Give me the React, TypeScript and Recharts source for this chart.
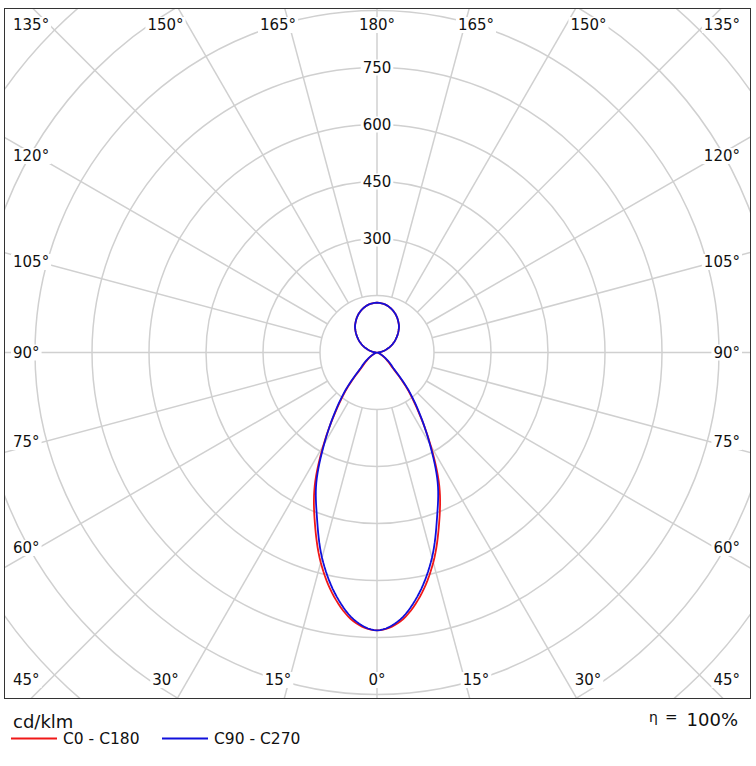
import { RadarChart, Radar, PolarGrid, PolarAngleAxis, PolarRadiusAxis } from 'recharts';

// Photometric polar diagram (cd/klm), C0-C180 vs C90-C270

// gamma angles of the measured curve (0° = straight down, 180° = up)
const GAMMA = [
  0, 5, 10, 15, 20, 25, 30, 35, 40, 45, 50, 55, 60, 65, 70, 75, 80, 85, 90,
  95, 100, 105, 110, 115, 120, 125, 130, 135, 140, 145, 150, 155, 160, 165, 170, 175, 180,
];

// cd/klm
const C0_C180 = [
  731, 710, 652, 572, 478, 388, 282, 190, 122, 62, 40, 27, 16, 9, 4, 2, 2, 3, 3,
  6, 13, 21, 30, 40, 50, 60, 70, 80, 90, 98, 106, 113, 119, 124, 128, 130, 131,
];
const C90_C270 = [
  731, 705, 642, 559, 462, 378, 278, 194, 128, 68, 46, 30, 18, 10, 5, 3, 2, 3, 3,
  6, 13, 21, 30, 40, 50, 60, 70, 80, 90, 98, 106, 113, 119, 124, 128, 130, 131,
];

// radial grid rings and the ones that carry a value label
const RING_VALUES = [150, 300, 450, 600, 750, 900, 1050, 1200, 1350];
const RING_LABELS = [300, 450, 600, 750];

// angle axis runs 0..360 round the full circle, starting at the bottom
const SPOKE_ANGLES = [0, 15, 30, 45, 60, 75, 90, 105, 120, 135, 150, 165, 180, 195, 210, 225, 240, 255, 270, 285, 300, 315, 330, 345];
const DEG_LABELS = [
  '0°', '15°', '30°', '45°', '60°', '75°', '90°', '105°', '120°', '135°', '150°', '165°',
  '180°', '165°', '150°', '135°', '120°', '105°', '90°', '75°', '60°', '45°', '30°', '15°',
];

const SERIES = [
  { key: 'c0', name: 'C0 - C180', color: '#f01818' },
  { key: 'c90', name: 'C90 - C270', color: '#1010dc' },
];

// ─── layout ────────────────────────────────────────────────
const BOX = { left: 4, top: 8, width: 747, height: 691 };
const CENTER = { x: 377, y: 352.5 };
const PX_PER_UNIT = 0.38;
const FONT = '"DejaVu Sans", Verdana, sans-serif';
const GRID = '#d0d0d0';
const RADIAN = Math.PI / 180;

// degree label anchors (page coords), same order as SPOKE_ANGLES
const LABEL_POS: { x: number; y: number; anchor: 'start' | 'middle' | 'end' }[] = [
  { x: 377, y: 680, anchor: 'middle' },
  { x: 476, y: 680, anchor: 'middle' },
  { x: 588, y: 680, anchor: 'middle' },
  { x: 740, y: 680, anchor: 'end' },
  { x: 740, y: 548, anchor: 'end' },
  { x: 740, y: 442, anchor: 'end' },
  { x: 740, y: 352.5, anchor: 'end' },
  { x: 740, y: 262, anchor: 'end' },
  { x: 740, y: 156, anchor: 'end' },
  { x: 740, y: 25, anchor: 'end' },
  { x: 588.5, y: 25, anchor: 'middle' },
  { x: 476, y: 25, anchor: 'middle' },
  { x: 377, y: 25, anchor: 'middle' },
  { x: 278, y: 25, anchor: 'middle' },
  { x: 165.5, y: 25, anchor: 'middle' },
  { x: 13, y: 25, anchor: 'start' },
  { x: 13, y: 156, anchor: 'start' },
  { x: 13, y: 262, anchor: 'start' },
  { x: 13, y: 352.5, anchor: 'start' },
  { x: 13, y: 442, anchor: 'start' },
  { x: 13, y: 548, anchor: 'start' },
  { x: 13, y: 680, anchor: 'start' },
  { x: 165.5, y: 680, anchor: 'middle' },
  { x: 278, y: 680, anchor: 'middle' },
];

// full circle: right half is C0 / C90 side, left half mirrors it
const data = Array.from({ length: 72 }, (_, k) => {
  const angle = k * 5;
  const g = angle <= 180 ? angle : 360 - angle;
  const i = GAMMA.indexOf(g);
  return { angle, c0: C0_C180[i], c90: C90_C270[i] };
});

function labelWidth(s: string, size = 15) {
  let w = 0;
  for (const ch of s) w += ch === '°' ? 0.5 : 0.636;
  return w * size;
}

// smooth closed curve through the radar points, spline taken on the radius
// (like a photometric plot does) rather than straight polygon edges
function smoothPolar(pts: any[]) {
  const n = pts.length;
  if (!n) return '';
  const SUB = 8;
  const out: string[] = [];
  for (let i = 0; i < n; i++) {
    const r0 = pts[(i - 1 + n) % n].radius;
    const r1 = pts[i].radius;
    const r2 = pts[(i + 1) % n].radius;
    const r3 = pts[(i + 2) % n].radius;
    let da = pts[(i + 1) % n].angle - pts[i].angle;
    if (da > 180) da -= 360;
    if (da < -180) da += 360;
    for (let s = 0; s < SUB; s++) {
      const t = s / SUB;
      const t2 = t * t;
      const t3 = t2 * t;
      let r =
        0.5 *
        (2 * r1 + (r2 - r0) * t + (2 * r0 - 5 * r1 + 4 * r2 - r3) * t2 + (3 * r1 - r0 - 3 * r2 + r3) * t3);
      if (r < 0) r = 0;
      const a = (pts[i].angle + da * t) * RADIAN;
      const x = pts[i].cx + r * Math.cos(-a);
      const y = pts[i].cy + r * Math.sin(-a);
      out.push(`${out.length ? 'L' : 'M'}${x.toFixed(2)},${y.toFixed(2)}`);
    }
  }
  return out.join('') + 'Z';
}

function DegreeTick(props: any) {
  const i = SPOKE_ANGLES.indexOf(props.payload?.value);
  if (i < 0) return <g />;
  const pos = LABEL_POS[i];
  const text = DEG_LABELS[i];
  const w = labelWidth(text);
  const x = pos.x - BOX.left;
  const y = pos.y - BOX.top;
  const x0 = pos.anchor === 'start' ? x : pos.anchor === 'end' ? x - w : x - w / 2;
  return (
    <g>
      <rect x={x0 - 2} y={y - 8} width={w + 4} height={16} fill="#fff" />
      <text
        x={x}
        y={y}
        textAnchor={pos.anchor}
        dominantBaseline="central"
        fontFamily={FONT}
        fontSize={15}
        fill="#111"
      >
        {text}
      </text>
    </g>
  );
}

function RingTick(props: any) {
  const v = props.payload?.value;
  if (!RING_LABELS.includes(v)) return <g />;
  const text = String(v);
  const w = labelWidth(text);
  return (
    <g>
      <rect x={props.x - w / 2 - 2} y={props.y - 8} width={w + 4} height={16} fill="#fff" />
      <text
        x={props.x}
        y={props.y}
        textAnchor="middle"
        dominantBaseline="central"
        fontFamily={FONT}
        fontSize={15}
        fill="#111"
      >
        {text}
      </text>
    </g>
  );
}

export default function App() {
  const ringMin = RING_VALUES[0];
  const ringMax = RING_VALUES[RING_VALUES.length - 1];

  return (
    <div style={{ position: 'absolute', left: 0, top: 0, width: 756, height: 766, background: '#fff', fontFamily: FONT }}>
      <div style={{ position: 'absolute', left: BOX.left, top: BOX.top, width: BOX.width, height: BOX.height, overflow: 'hidden' }}>
        <RadarChart
          width={BOX.width}
          height={BOX.height}
          data={data}
          cx={CENTER.x - BOX.left}
          cy={CENTER.y - BOX.top}
          innerRadius={ringMin * PX_PER_UNIT}
          outerRadius={ringMax * PX_PER_UNIT}
          startAngle={-90}
          endAngle={270}
          margin={{ top: 0, right: 0, bottom: 0, left: 0 }}
        >
          <PolarGrid gridType="circle" stroke={GRID} strokeWidth={1.5} />
          <PolarAngleAxis
            dataKey="angle"
            type="number"
            domain={[0, 360]}
            ticks={SPOKE_ANGLES}
            axisLine={false}
            tickLine={false}
            tick={DegreeTick}
          />
          <PolarRadiusAxis
            type="number"
            angle={90}
            domain={[ringMin, ringMax]}
            ticks={RING_VALUES}
            allowDataOverflow
            axisLine={false}
            tick={RingTick}
          />
          {SERIES.map((s) => (
            <Radar
              key={s.key}
              dataKey={s.key}
              name={s.name}
              stroke={s.color}
              strokeWidth={1.8}
              fill="none"
              fillOpacity={0}
              dot={false}
              isAnimationActive={false}
              shape={(p: any) => (
                <path d={smoothPolar(p.points || [])} fill="none" stroke={s.color} strokeWidth={1.8} />
              )}
            />
          ))}
        </RadarChart>
      </div>
      <div
        style={{
          position: 'absolute',
          left: BOX.left,
          top: BOX.top,
          width: BOX.width,
          height: BOX.height,
          border: '1px solid #333',
          boxSizing: 'border-box',
          pointerEvents: 'none',
        }}
      />
      <svg width={756} height={68} style={{ position: 'absolute', left: 0, top: 698 }}>
        <text x={13} y={30} fontFamily={FONT} fontSize={18} fill="#111">cd/klm</text>
        <line x1={11} y1={40.5} x2={57} y2={40.5} stroke={SERIES[0].color} strokeWidth={2} />
        <text x={63} y={46} fontFamily={FONT} fontSize={15.5} fill="#111">{SERIES[0].name}</text>
        <line x1={162} y1={40.5} x2={208} y2={40.5} stroke={SERIES[1].color} strokeWidth={2} />
        <text x={214} y={46} fontFamily={FONT} fontSize={15.5} fill="#111">{SERIES[1].name}</text>
        <text x={649} y={24} fontFamily={FONT} fontSize={14} fill="#111">η</text>
        <text x={665} y={24} fontFamily={FONT} fontSize={15} fill="#111">=</text>
        <text x={738} y={28} textAnchor="end" fontFamily={FONT} fontSize={18} fill="#111">100%</text>
      </svg>
    </div>
  );
}
